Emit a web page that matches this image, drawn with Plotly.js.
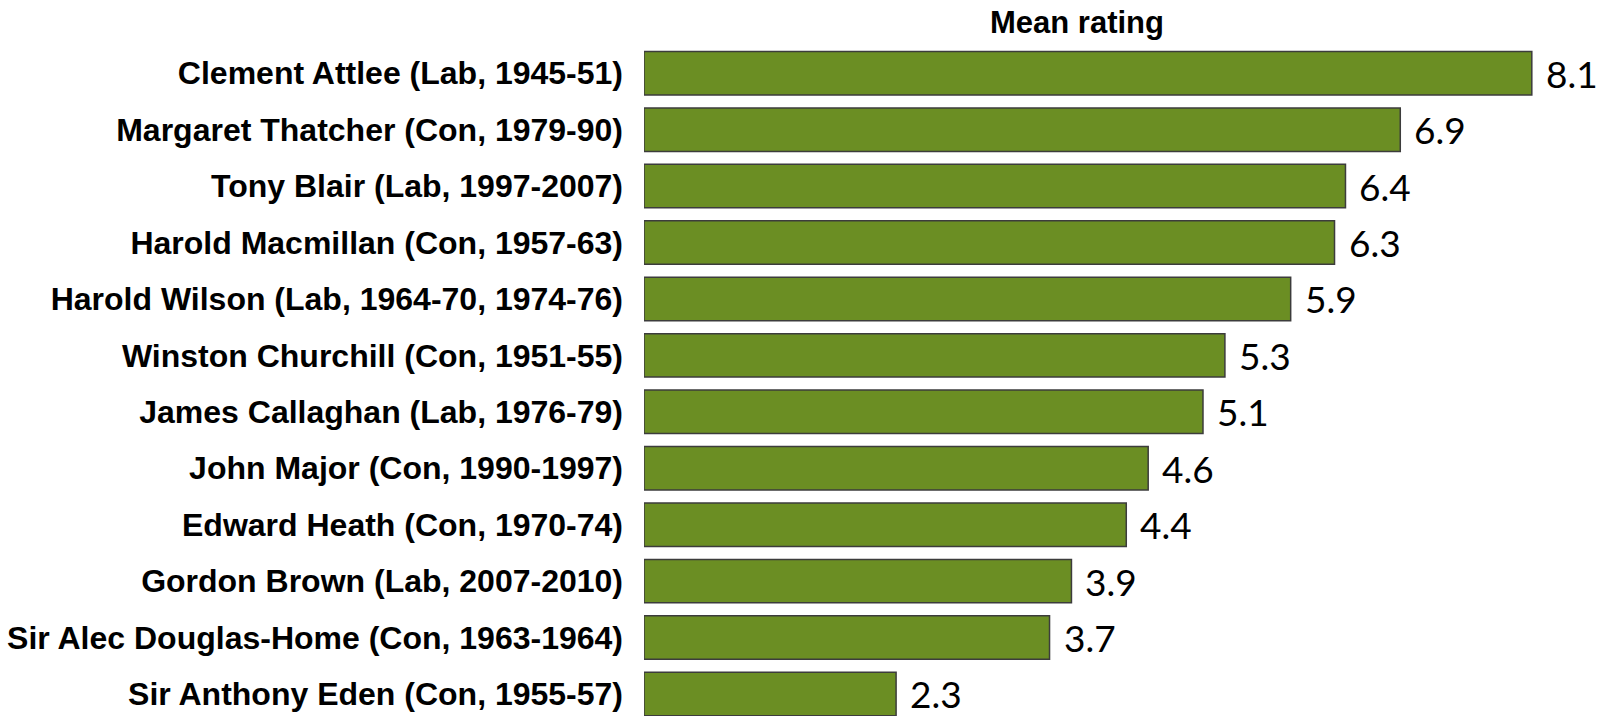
<!DOCTYPE html>
<html>
<head>
<meta charset="utf-8">
<script src="https://cdn.plot.ly/plotly-3.0.1.min.js"></script>
<style>
  html, body { margin: 0; padding: 0; background: #fff; }
  #chart { width: 1607px; height: 716px; }
</style>
</head>
<body>
<div id="chart"></div>
<script>
// prime ministers, top to bottom as in the chart
var pmNames = [
    'Clement Attlee (Lab, 1945-51)',
    'Margaret Thatcher (Con, 1979-90)',
    'Tony Blair (Lab, 1997-2007)',
    'Harold Macmillan (Con, 1957-63)',
    'Harold Wilson (Lab, 1964-70, 1974-76)',
    'Winston Churchill (Con, 1951-55)',
    'James Callaghan (Lab, 1976-79)',
    'John Major (Con, 1990-1997)',
    'Edward Heath (Con, 1970-74)',
    'Gordon Brown (Lab, 2007-2010)',
    'Sir Alec Douglas-Home (Con, 1963-1964)',
    'Sir Anthony Eden (Con, 1955-57)'
];

// mean rating
var meanRating = [8.1, 6.9, 6.4, 6.3, 5.9, 5.3, 5.1, 4.6, 4.4, 3.9, 3.7, 2.3];

var bars = {
    type: 'bar',
    orientation: 'h',
    x: meanRating,
    y: pmNames,
    width: 0.77,
    marker: {
        color: '#6b8e23',
        line: { color: '#3c3c3c', width: 1.5 }
    },
    hoverinfo: 'none'
};

// value labels next to each bar
var valueLabels = meanRating.map(function (v, i) {
    return {
        x: v,
        y: pmNames[i],
        xref: 'x',
        yref: 'y',
        text: v.toFixed(1),
        showarrow: false,
        xanchor: 'left',
        yanchor: 'middle',
        xshift: 12,
        yshift: 0,
        font: { family: 'Lato, "DejaVu Sans", sans-serif', size: 37, color: '#000' }
    };
});

var layout = {
    width: 1607,
    height: 716,
    margin: { l: 644, r: 0, t: 45, b: 0, pad: 0 },
    paper_bgcolor: '#fff',
    plot_bgcolor: '#fff',
    showlegend: false,
    title: {
        text: '<b>Mean rating</b>',
        xref: 'paper',
        yref: 'container',
        x: (1077 - 644) / 963,
        xanchor: 'center',
        y: 1 - 22 / 716,
        yanchor: 'middle',
        font: { family: '"Liberation Sans", Arial, sans-serif', size: 31, color: '#000' }
    },
    xaxis: {
        range: [0, 8.786],
        visible: false,
        fixedrange: true
    },
    yaxis: {
        type: 'category',
        range: [11.39, -0.5],
        showgrid: false,
        zeroline: false,
        showline: false,
        ticks: '',
        ticklabelstandoff: 20,
        tickfont: { family: '"Liberation Sans", Arial, sans-serif', size: 32, color: '#000', weight: 'bold' },
        fixedrange: true
    },
    annotations: valueLabels
};

Plotly.newPlot('chart', [bars], layout, { displayModeBar: false, staticPlot: true });
</script>
</body>
</html>
